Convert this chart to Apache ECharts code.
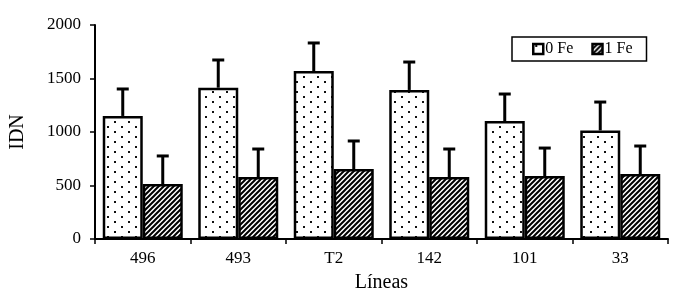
<!DOCTYPE html>
<html>
<head>
<meta charset="utf-8">
<script src="https://cdn.jsdelivr.net/npm/echarts@6/dist/echarts.min.js"></script>
<style>
  html, body { margin: 0; padding: 0; background: #fff; }
  #chart { width: 676px; height: 298px; }
</style>
</head>
<body>
<div id="chart"></div>
<script>
// data
var categories = ['496', '493', 'T2', '142', '101', '33'];
var fe0 = [1150, 1414, 1570, 1393, 1103, 1015];
var fe0Err = [252, 259, 262, 261, 252, 265];
var fe1 = [514, 579, 654, 579, 589, 607];
var fe1Err = [262, 262, 262, 262, 261, 262];
var yTicks = [0, 500, 1000, 1500, 2000];

// fill patterns
function dotPattern() {
  var c = document.createElement('canvas');
  c.width = 14; c.height = 10;
  var ctx = c.getContext('2d');
  ctx.fillStyle = '#fff';
  ctx.fillRect(0, 0, 14, 10);
  ctx.fillStyle = '#111';
  ctx.fillRect(2, 1, 2, 2);
  ctx.fillRect(9, 6, 2, 2);
  return c;
}
function hatchPattern() {
  var c = document.createElement('canvas');
  c.width = 5; c.height = 5;
  var ctx = c.getContext('2d');
  ctx.fillStyle = '#fff';
  ctx.fillRect(0, 0, 5, 5);
  ctx.strokeStyle = '#000';
  ctx.lineWidth = 2;
  ctx.beginPath();
  for (var k = -1; k <= 1; k++) {
    ctx.moveTo(k * 5 - 1, 6);
    ctx.lineTo(k * 5 + 6, -1);
  }
  ctx.stroke();
  return c;
}

var dots = { image: dotPattern(), repeat: 'repeat' };
var hatch = { image: hatchPattern(), repeat: 'repeat' };

function errData(vals, errs) {
  return vals.map(function (v, i) { return [i, v, v + errs[i]]; });
}

function errSeries(name, vals, errs, offset) {
  return {
    name: name + ' err',
    type: 'custom',
    z: 1,
    silent: true,
    data: errData(vals, errs),
    renderItem: function (params, api) {
      var lo = api.coord([api.value(0), api.value(1)]);
      var hi = api.coord([api.value(0), api.value(2)]);
      var x = lo[0] + offset;
      return {
        type: 'group',
        children: [
          { type: 'line', shape: { x1: x, y1: lo[1], x2: x, y2: hi[1] }, style: { stroke: '#000', lineWidth: 3 } },
          { type: 'line', shape: { x1: x - 6, y1: hi[1], x2: x + 6, y2: hi[1] }, style: { stroke: '#000', lineWidth: 3 } }
        ]
      };
    }
  };
}

var font = 'Liberation Serif';
var chart = echarts.init(document.getElementById('chart'));
var option = {
  animation: false,
  textStyle: { fontFamily: font },
  grid: { left: 95, right: 8, top: 25, bottom: 59, outerBoundsMode: 'none' },
  legend: {
    data: ['0 Fe', '1 Fe'],
    left: 512,
    top: 37,
    padding: [4, 14, 4, 20],
    borderColor: '#000',
    borderWidth: 1.5,
    itemWidth: 10,
    itemHeight: 10,
    itemGap: 18,
    icon: 'rect',
    itemStyle: { borderWidth: 2.5, borderColor: '#000' },
    textStyle: { fontFamily: font, fontSize: 16, color: '#000', padding: [0, 0, 0, -3] }
  },
  xAxis: {
    type: 'category',
    data: categories,
    name: 'Líneas',
    nameLocation: 'middle',
    nameGap: 34,
    nameTextStyle: { fontFamily: font, fontSize: 20, color: '#000' },
    axisLine: { lineStyle: { color: '#000', width: 2 } },
    axisTick: { show: true, length: 5, lineStyle: { color: '#000', width: 1.5 } },
    axisLabel: { fontFamily: font, fontSize: 17, color: '#000', margin: 11 }
  },
  yAxis: {
    type: 'value',
    min: yTicks[0],
    max: yTicks[yTicks.length - 1],
    interval: 500,
    name: 'IDN',
    nameLocation: 'middle',
    nameGap: 67,
    nameTextStyle: { fontFamily: font, fontSize: 20, color: '#000' },
    axisLine: { show: true, lineStyle: { color: '#000', width: 2 } },
    axisTick: { show: true, length: 5, lineStyle: { color: '#000', width: 1.5 } },
    axisLabel: {
      fontFamily: font, fontSize: 17, color: '#000', margin: 14,
      formatter: function (v) { return String(v); }
    },
    splitLine: { show: false }
  },
  series: [
    {
      name: '0 Fe',
      type: 'bar',
      data: fe0,
      barWidth: 40,
      barGap: '0%',
      z: 2,
      itemStyle: { color: dots, borderColor: '#000', borderWidth: 2.5 }
    },
    {
      name: '1 Fe',
      type: 'bar',
      data: fe1,
      barWidth: 40,
      z: 2,
      itemStyle: { color: hatch, borderColor: '#000', borderWidth: 2.5 }
    },
    errSeries('0 Fe', fe0, fe0Err, -20),
    errSeries('1 Fe', fe1, fe1Err, 20)
  ]
};
chart.setOption(option);
</script>
</body>
</html>
